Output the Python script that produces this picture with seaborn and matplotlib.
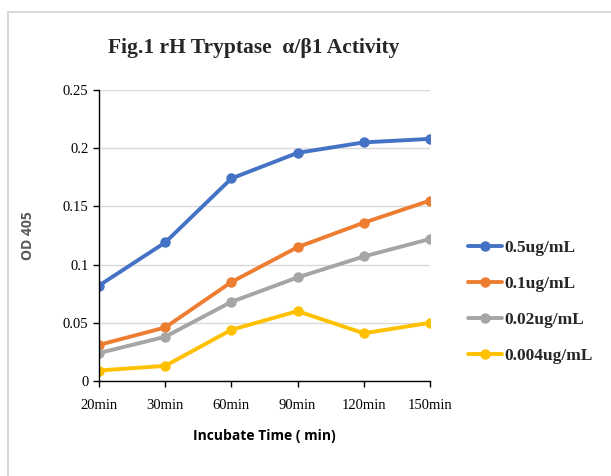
import pandas as pd
import seaborn as sns
import matplotlib.pyplot as plt
from matplotlib.lines import Line2D

# data
times = ["20min", "30min", "60min", "90min", "120min", "150min"]
conc_05 = [0.082, 0.119, 0.174, 0.196, 0.205, 0.208]
conc_01 = [0.031, 0.046, 0.085, 0.115, 0.136, 0.155]
conc_002 = [0.024, 0.038, 0.068, 0.089, 0.107, 0.122]
conc_0004 = [0.009, 0.013, 0.044, 0.060, 0.041, 0.050]
labels = ["0.5ug/mL", "0.1ug/mL", "0.02ug/mL", "0.004ug/mL"]
colors = ["#4472C4", "#ED7D31", "#A5A5A5", "#FFC000"]

rows = []
for lab, vals in zip(labels, [conc_05, conc_01, conc_002, conc_0004]):
    for t, v in zip(times, vals):
        rows.append({"time": t, "od": v, "conc": lab})
df = pd.DataFrame(rows)

sns.set_style("white")
plt.rcParams["font.family"] = ["Liberation Serif", "DejaVu Serif"]

fig = plt.figure(figsize=(6.11, 4.76), dpi=100)
ax = fig.add_axes([99 / 611, 95 / 476, 331 / 611, 291 / 476])

sns.lineplot(data=df, x="time", y="od", hue="conc", hue_order=labels,
             palette=colors, marker="o", markersize=7.5, markeredgewidth=0,
             linewidth=2.8, sort=False, ax=ax, legend=False)

ax.set_xlim(0, len(times) - 1)
ax.set_ylim(0, 0.25)
ax.set_yticks([0, 0.05, 0.1, 0.15, 0.2, 0.25])
ax.set_yticklabels(["0", "0.05", "0.1", "0.15", "0.2", "0.25"])
ax.grid(axis="y", color="#D9D9D9", linewidth=1)
ax.set_axisbelow(True)
for s in ["top", "right"]:
    ax.spines[s].set_visible(False)
for s in ["left", "bottom"]:
    ax.spines[s].set_color("black")
    ax.spines[s].set_linewidth(1)
ax.tick_params(axis="both", direction="out", length=4, width=1, color="black",
               labelsize=10.5, labelcolor="black", bottom=True, left=True)
ax.tick_params(axis="x", pad=9)

ax.set_xlabel("Incubate Time ( min)", fontsize=10, fontweight="bold",
              family=["Open Sans", "DejaVu Sans"], color="black", labelpad=12)
ax.set_ylabel("OD 405", fontsize=10, fontweight="bold",
              family=["Open Sans", "DejaVu Sans"], color="#595959", labelpad=20)

handles = [Line2D([], [], color=c, marker="o", markersize=7.5, markeredgewidth=0,
                  linewidth=2.8) for c in colors]
fig.legend(handles, labels, loc="center left", bbox_to_anchor=(452 / 611, 1 - 302 / 476),
           frameon=False, prop={"weight": "bold", "size": 12.5},
           handlelength=2.0, labelspacing=1.15, handletextpad=0.1)

fig.text(254 / 611, 1 - 48 / 476, "Fig.1 rH Tryptase  α/β1 Activity",
         ha="center", va="center", fontsize=15.5, fontweight="bold")

# chart area border
fig.add_artist(Line2D([8 / 611, 1], [1 - 12 / 476, 1 - 12 / 476],
                      color="#D9D9D9", linewidth=1.5, transform=fig.transFigure))
fig.add_artist(Line2D([8 / 611, 8 / 611], [0, 1 - 12 / 476],
                      color="#D9D9D9", linewidth=1.5, transform=fig.transFigure))

fig.savefig("out.png", dpi=100)
